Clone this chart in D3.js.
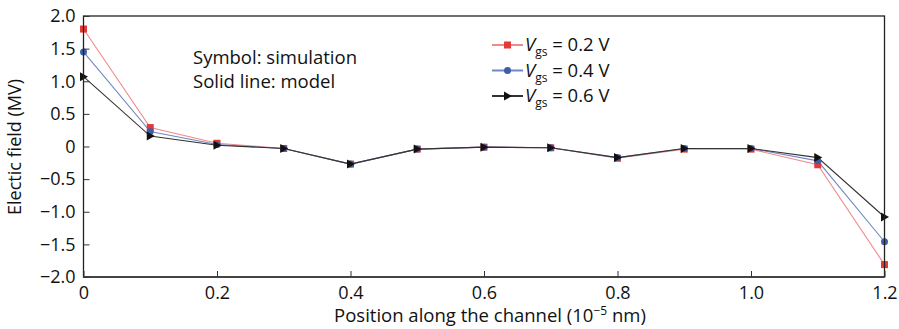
<!DOCTYPE html>
<html><head><meta charset="utf-8">
<script src="https://cdn.jsdelivr.net/npm/d3@7"></script>
<style>body{margin:0;background:#fff}svg{display:block}text{font-family:"Open Sans",sans-serif;fill:#111}</style>
</head><body>
<svg id="c" width="899" height="329"></svg>
<script>
const positions = [0,0.1,0.2,0.3,0.4,0.5,0.6,0.7,0.8,0.9,1.0,1.1,1.2];
const vgs02 = [1.80,0.29,0.05,-0.03,-0.27,-0.04,-0.01,-0.02,-0.18,-0.04,-0.04,-0.28,-1.81];
const vgs04 = [1.45,0.23,0.03,-0.03,-0.27,-0.04,-0.01,-0.02,-0.17,-0.03,-0.03,-0.22,-1.46];
const vgs06 = [1.07,0.16,0.02,-0.03,-0.27,-0.04,-0.01,-0.02,-0.17,-0.03,-0.03,-0.17,-1.08];
const xTicks = [0,0.2,0.4,0.6,0.8,1.0,1.2];
const xTickLabels = ["0","0.2","0.4","0.6","0.8","1.0","1.2"];
const yTicks = [2.0,1.5,1.0,0.5,0,-0.5,-1.0,-1.5,-2.0];
const yTickLabels = ["2.0","1.5","1.0","0.5","0","\u22120.5","\u22121.0","\u22121.5","\u22122.0"];
const seriesNames = ["0.2 V","0.4 V","0.6 V"];

const svg = d3.select("#c");
const L=83.5, R=884.5, T=16, B=277;
const x = d3.scaleLinear().domain([0,1.2]).range([L,R]);
const y = d3.scaleLinear().domain([-2,2]).range([B,T]);

const series = [
  {name:seriesNames[0], vals:vgs02, line:"#f08a8a", fill:"#e53935", sym:"square"},
  {name:seriesNames[1], vals:vgs04, line:"#6f88c4", fill:"#3d5fa8", sym:"circle"},
  {name:seriesNames[2], vals:vgs06, line:"#333", fill:"#111", sym:"tri"}
];

function marker(g, sym, fill){
  if(sym==="square") g.append("rect").attr("x",-3.5).attr("y",-3.5).attr("width",7).attr("height",7).attr("fill",fill);
  else if(sym==="circle") g.append("circle").attr("r",3.5).attr("fill",fill);
  else g.append("path").attr("d","M-3.5,-4.5L4.5,0L-3.5,4.5Z").attr("fill",fill);
}

const line = d3.line().x((d,i)=>x(positions[i])).y(d=>y(d));
series.forEach(s=>{
  svg.append("path").attr("d",line(s.vals)).attr("fill","none").attr("stroke",s.line).attr("stroke-width",1.1);
});
series.forEach(s=>{
  s.vals.forEach((v,i)=>{
    const g = svg.append("g").attr("transform",`translate(${x(positions[i])},${y(v)})`);
    marker(g,s.sym,s.fill);
  });
});

// frame
svg.append("rect").attr("x",L).attr("y",T).attr("width",R-L).attr("height",B-T).attr("fill","none").attr("stroke","#222").attr("stroke-width",1.3);
svg.append("line").attr("x1",L).attr("x2",R).attr("y1",B).attr("y2",B).attr("stroke","#444").attr("stroke-width",2.2);

const xAxis = d3.axisBottom(x).tickValues(xTicks).tickFormat((d,i)=>xTickLabels[i]).tickSizeInner(-6).tickSizeOuter(0).tickPadding(9);
const gx = svg.append("g").attr("transform",`translate(0,${B})`).call(xAxis);
gx.select(".domain").remove();
gx.selectAll("line").attr("stroke","#333");
gx.selectAll("text").style("font-size","18px").style("font-family","'Open Sans',sans-serif").attr("fill","#111");

const yAxis = d3.axisLeft(y).tickValues(yTicks).tickFormat((d,i)=>yTickLabels[i]).tickSizeInner(-6).tickSizeOuter(0).tickPadding(8);
const gy = svg.append("g").attr("transform",`translate(${L},0)`).call(yAxis);
gy.select(".domain").remove();
gy.selectAll("line").attr("stroke","#333");
gy.selectAll("text").style("font-size","18px").style("font-family","'Open Sans',sans-serif").attr("fill","#111");

svg.append("text").attr("x",(L+R)/2 + 6).attr("y",322).attr("text-anchor","middle").style("font-size","18.5px")
  .html('Position along the channel (10<tspan dy="-7" style="font-size:12px">\u22125</tspan><tspan dy="7"> nm)</tspan>');
svg.append("text").attr("transform","translate(21,147) rotate(-90)").attr("text-anchor","middle").style("font-size","18px").text("Electic field (MV)");

svg.append("text").attr("x",193).attr("y",64).style("font-size","18.5px").text("Symbol: simulation");
svg.append("text").attr("x",193).attr("y",88).style("font-size","18.5px").text("Solid line: model");

const legY = [45,70.5,96];
series.forEach((s,i)=>{
  const g = svg.append("g").attr("transform",`translate(0,${legY[i]})`);
  g.append("line").attr("x1",492).attr("x2",523).attr("y1",0).attr("y2",0).attr("stroke",s.line).attr("stroke-width",2);
  const m = g.append("g").attr("transform","translate(507.5,0)");
  marker(m,s.sym,s.fill);
  g.append("text").attr("x",525).attr("y",6).style("font-size","18.5px")
    .html(`<tspan font-style="italic">V</tspan><tspan dy="5" style="font-size:12px">gs</tspan><tspan dy="-5"> = ${s.name}</tspan>`);
});
</script>
</body></html>
